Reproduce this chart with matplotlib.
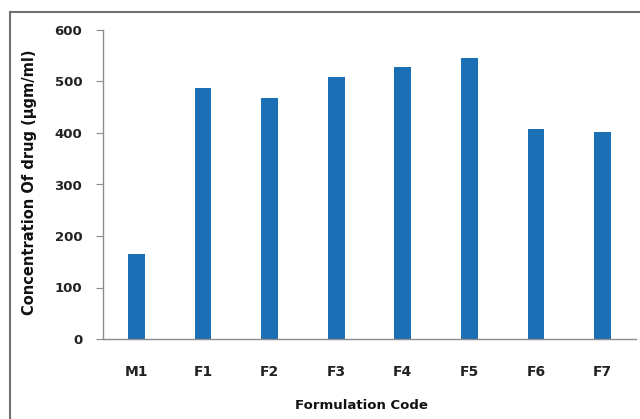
import matplotlib
matplotlib.use('Agg')
import matplotlib.pyplot as plt
from matplotlib.patches import Rectangle

codes = ['M1', 'F1', 'F2', 'F3', 'F4', 'F5', 'F6', 'F7']
conc = [165, 488, 468, 509, 529, 545, 408, 402]
yticks = [0, 100, 200, 300, 400, 500, 600]

W, H = 640, 419
fig = plt.figure(figsize=(W / 100., H / 100.), dpi=100)
ax = fig.add_axes([103. / W, 80. / H, 533. / W, 309. / H])

ax.bar(range(len(codes)), conc, width=0.25, color='#1b6fb5')
ax.set_xlim(-0.5, len(codes) - 0.5)
ax.set_ylim(0, 600)
ax.set_yticks(yticks)
ax.set_xticks(range(len(codes)))
ax.set_xticklabels(codes)

for s in ['top', 'right']:
    ax.spines[s].set_visible(False)
for s in ['left', 'bottom']:
    ax.spines[s].set_color('#8c8c8c')
    ax.spines[s].set_linewidth(1.0)
ax.tick_params(axis='y', length=5, color='#8c8c8c', pad=10)
ax.tick_params(axis='x', length=0, pad=19)
for lab in ax.get_yticklabels():
    lab.set_fontfamily('DejaVu Sans')
    lab.set_fontweight('bold')
    lab.set_fontsize(9.5)
    lab.set_color('#222222')
for lab in ax.get_xticklabels():
    lab.set_fontfamily('DejaVu Sans')
    lab.set_fontweight('bold')
    lab.set_fontsize(10)
    lab.set_color('#222222')

fig.text(30. / W, 1 - 182. / H, 'Concentration Of drug (\u03bcgm/ml)',
         rotation=90, ha='center', va='center', fontsize=10.5,
         fontweight='bold', family='DejaVu Sans', color='#111111')
fig.text(361. / W, 1 - 405. / H, 'Formulation Code',
         ha='center', va='center', fontsize=9.5, fontweight='bold',
         family='DejaVu Sans', color='#111111')

# outer frame, cut at right and bottom
fig.patches.append(Rectangle((10. / W, -0.1), 1.0, 1 - 12. / H + 0.1,
                             transform=fig.transFigure, fill=False,
                             edgecolor='#707070', linewidth=1.5))

fig.savefig('out.png', dpi=100)
